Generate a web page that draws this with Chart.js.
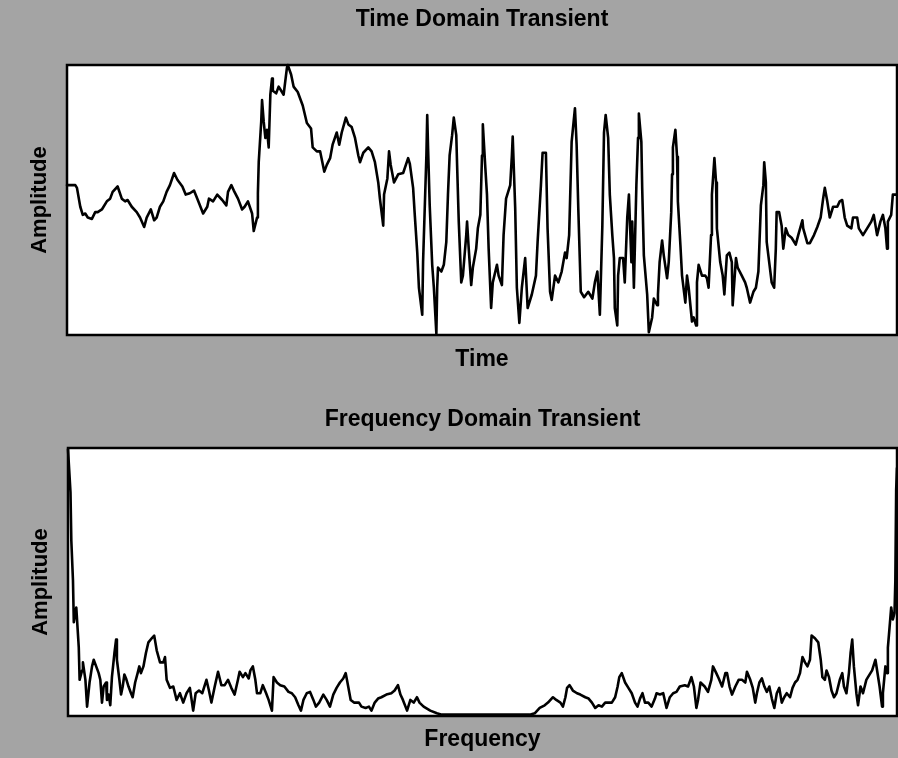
<!DOCTYPE html>
<html>
<head>
<meta charset="utf-8">
<script src="https://cdn.jsdelivr.net/npm/chart.js@4.4.1/dist/chart.umd.min.js"></script>
<style>
  html, body { margin: 0; padding: 0; background: #a4a4a4; width: 898px; height: 758px; overflow: hidden; }
  .panel { position: absolute; left: 0; width: 898px; }
  #p1 { top: 0; height: 385px; }
  #p2 { top: 385px; height: 373px; }
</style>
</head>
<body>
<div class="panel" id="p1"><canvas id="c1"></canvas></div>
<div class="panel" id="p2"><canvas id="c2"></canvas></div>
<script>
// ---- Time domain transient (time, amplitude) ----
const timeT = [
  0,10,12,16,19,22,25,30,34,37,
  42,48,52,55,61,66,70,73,78,84,
  88,93,96,101,105,108,112,116,120,124,
  129,133,139,143,148,153,157,164,169,171,
  176,181,187,192,194,198,201,206,211,214,
  218,223,225,229,230,231,234,235,237,239,
  241,243,245,247,248,252,255,259,261,265,
  266,270,273,278,284,289,294,296,301,305,
  310,313,317,320,325,328,331,336,339,343,
  347,351,353,357,363,367,371,375,377,381,
  382,386,388,390,394,399,405,411,413,417,
  419,422,424,428,429,433,434,435,437,440,
  442,445,446,447,451,454,457,459,461,464,
  466,469,470,472,475,477,481,482,484,487,
  489,493,495,498,500,501,504,506,508,511,
  513,518,520,524,526,529,534,536,537,540,
  542,545,548,552,555,560,565,567,571,573,
  577,579,582,584,588,592,596,600,602,605,
  608,612,614,616,619,623,628,633,636,639,
  642,645,647,649,652,654,657,659,660,663,
  664,666,670,672,675,677,680,681,683,686,
  688,689,692,693,695,699,701,705,707,711,
  712,714,717,719,723,725,728,729,730,733,
  735,736,739,741,745,747,749,753,755,758,
  759,761,765,769,771,773,776,777,780,782,
  783,787,790,792,795,798,801,802,806,808,
  813,817,819,823,827,830,833,836,839,840,
  842,843,846,849,852,854,855,858,861,863,
  866,869,873,878,881,886,887,892,895,900,
  904,908,911,913,916,919,923,928,931,934,
  937,940,945,947,952,954,959,964,969,972,
  976,980,983,986,988,989,993,995,1000
];
const timeAmp = [
  11,11,9,-5,-11,-10,-13,-14,-9,-9,
  -7,-1,1,6,10,1,-1,0,-5,-9,
  -13,-20,-13,-7,-15,-13,-5,-1,6,11,
  20,15,10,4,5,7,1,-10,-5,1,
  -1,4,0,-4,6,11,7,1,-7,-5,
  -1,-10,-23,-13,5,28,58,74,58,46,
  52,39,78,90,81,79,84,80,78,98,
  100,93,84,80,70,57,53,39,36,36,
  21,26,31,41,50,41,50,61,56,54,
  46,33,28,35,39,36,28,13,1,-19,
  4,16,36,26,13,19,20,31,27,9,
  -11,-39,-65,-85,-46,33,63,39,-4,-48,
  -65,-99,-65,-50,-53,-48,-31,4,33,48,
  61,48,26,-16,-61,-56,-26,-16,-36,-63,
  -50,-36,-21,-11,33,56,24,4,-36,-80,
  -61,-48,-56,-63,-26,1,11,33,47,-6,
  -65,-91,-65,-43,-80,-70,-56,-31,11,35,
  35,-21,-68,-74,-56,-61,-53,-39,-43,-26,
  43,68,41,-6,-68,-72,-68,-73,-61,-53,
  -85,-19,50,63,46,4,-26,-43,-80,-93,
  -56,-43,-43,-61,-13,4,-46,-16,-65,11,
  46,64,43,9,-41,-70,-98,-87,-73,-78,
  -70,-46,-30,-41,-58,-46,-9,19,39,52,
  32,-1,-33,-56,-76,-56,-65,-90,-87,-93,
  -61,-48,-56,-56,-58,-65,-26,4,31,13,
  -21,-46,-56,-70,-41,-39,-46,-78,-43,-50,
  -56,-61,-65,-76,-68,-65,-53,-4,11,28,
  13,-31,-46,-61,-65,-36,-9,-9,-19,-36,
  -21,-26,-28,-33,-26,-15,-21,-32,-32,-26,
  -20,-13,1,9,-1,-13,-5,-5,-1,0,
  -13,-19,-21,-13,-13,-21,-26,-21,-16,-11,
  -26,-16,-11,-21,-36,-16,-11,4,4
];

// ---- Frequency domain transient (frequency, magnitude) ----
const freqF = [
  0,3,4,6,7,10,13,14,17,18,
  21,23,26,29,31,34,37,39,41,43,
  46,47,49,51,53,56,58,59,62,64,
  66,68,70,73,76,78,81,84,86,88,
  91,94,97,101,104,107,111,115,117,119,
  123,127,131,135,139,143,147,151,154,158,
  162,167,170,173,177,181,185,189,193,197,
  201,205,207,211,214,218,220,223,226,228,
  232,235,239,242,246,248,252,256,261,266,
  270,274,278,281,284,288,292,296,299,303,
  308,312,316,320,324,328,332,335,338,341,
  345,349,351,354,359,363,366,370,374,378,
  384,390,394,398,401,404,409,413,417,421,
  424,429,437,445,451,457,490,520,557,563,
  569,575,579,585,589,594,597,600,602,605,
  609,614,618,624,628,632,636,640,644,648,
  652,656,660,663,665,668,672,676,680,684,
  687,690,693,696,700,704,708,710,714,718,
  722,726,730,734,738,744,748,752,755,758,
  760,763,768,772,776,778,782,785,789,793,
  795,798,801,805,809,813,817,819,823,826,
  829,831,834,837,840,843,846,849,852,855,
  858,861,864,867,871,874,877,880,883,886,
  889,892,895,897,901,905,908,910,913,915,
  918,921,924,927,931,934,936,939,942,944,
  946,948,951,953,956,959,963,965,970,974,
  976,979,982,983,986,988,989,991,993,995,
  997,998,999,1000
];
const freqMag = [
  199,167,131,101,70,81,51,27,34,40,
  27,7,25,37,42,37,32,27,10,22,
  25,12,16,8,29,47,57,42,27,16,
  22,31,28,22,17,14,25,32,37,32,
  37,47,55,58,60,49,40,40,44,27,
  21,22,12,17,10,17,21,4,17,19,
  17,27,19,10,22,33,23,23,27,21,
  16,27,33,29,32,28,34,37,27,17,
  17,23,17,12,4,29,25,23,22,18,
  17,14,8,4,12,17,18,12,7,10,
  16,12,7,16,21,25,28,32,22,12,
  10,10,10,7,6,7,4,10,13,14,
  16,17,19,23,16,12,4,12,10,14,
  10,7,4,2,1,1,1,1,1,2,
  6,8,10,14,12,10,7,14,21,23,
  19,17,16,14,13,10,6,8,7,10,
  10,10,14,22,29,32,25,21,17,10,
  7,13,17,10,10,7,13,17,16,17,
  6,14,17,18,22,23,22,29,22,6,
  12,25,22,18,27,37,32,28,22,32,
  32,22,16,22,27,27,25,33,27,21,
  10,17,25,28,22,18,22,13,6,17,
  21,10,14,17,14,21,25,27,32,44,
  40,37,42,60,58,55,42,29,27,34,
  29,19,14,17,27,32,22,17,32,47,
  57,37,17,8,22,17,27,29,34,42,
  34,22,7,17,37,32,51,66,81,72,
  77,101,169,185
];

const FONT = '"Liberation Sans", Arial, sans-serif';

const framePlugin = {
  id: 'frame',
  beforeDatasetsDraw(chart) {
    const a = chart.chartArea, ctx = chart.ctx;
    ctx.save();
    ctx.fillStyle = '#ffffff';
    ctx.fillRect(a.left, a.top, a.right - a.left, a.bottom - a.top);
    ctx.restore();
  },
  afterDatasetsDraw(chart) {
    const a = chart.chartArea, ctx = chart.ctx;
    ctx.save();
    ctx.strokeStyle = '#000000';
    ctx.lineWidth = 2.5;
    ctx.strokeRect(a.left, a.top, a.right - a.left, a.bottom - a.top);
    ctx.restore();
  }
};

function makeChart(id, xs, ys, cfg) {
  const pts = xs.map((x, i) => ({ x: x, y: ys[i] }));
  return new Chart(document.getElementById(id), {
    type: 'line',
    data: {
      datasets: [{
        data: pts,
        borderColor: '#000000',
        borderWidth: 2.6,
        borderJoinStyle: 'round',
        borderCapStyle: 'round',
        pointRadius: 0,
        tension: 0,
        fill: false,
        clip: 4
      }]
    },
    options: {
      animation: false,
      responsive: true,
      maintainAspectRatio: false,
      layout: { padding: cfg.layout },
      plugins: {
        legend: { display: false },
        tooltip: { enabled: false },
        title: {
          display: true,
          text: cfg.title,
          color: '#000000',
          fullSize: false,
          font: { family: FONT, size: 23, weight: 'bold', lineHeight: 1.2 },
          padding: cfg.titlePad
        }
      },
      scales: {
        x: {
          type: 'linear',
          min: cfg.xmin, max: cfg.xmax,
          grid: { display: false, drawTicks: false },
          border: { display: false },
          ticks: { display: false },
          title: {
            display: true, text: cfg.xTitle, color: '#000000',
            font: { family: FONT, size: 23, weight: 'bold', lineHeight: 1.2 },
            padding: cfg.xPad
          }
        },
        y: {
          type: 'linear',
          min: cfg.ymin, max: cfg.ymax,
          grid: { display: false, drawTicks: false },
          border: { display: false },
          ticks: { display: false },
          title: {
            display: true, text: 'Amplitude', color: '#000000',
            font: { family: FONT, size: 22, weight: 'bold', lineHeight: 1.2 },
            padding: { top: 6.8, bottom: 13.8 }
          }
        }
      }
    },
    plugins: [framePlugin]
  });
}

makeChart('c1', timeT, timeAmp, {
  title: 'Time Domain Transient',
  xTitle: 'Time',
  xmin: 0, xmax: 1000, ymin: -100, ymax: 100,
  layout: { left: 20, right: 1, top: 0, bottom: 11.4 },
  titlePad: { top: 6.2, bottom: 31.2 },
  xPad: { top: 11, bottom: 0 }
});

makeChart('c2', freqF, freqMag, {
  title: 'Frequency Domain Transient',
  xTitle: 'Frequency',
  xmin: 0, xmax: 1000, ymin: 0, ymax: 200,
  layout: { left: 21, right: 1, top: 0, bottom: 0 },
  titlePad: { top: 21.2, bottom: 14.2 },
  xPad: { top: 10.2, bottom: 4.2 }
});
</script>
</body>
</html>
